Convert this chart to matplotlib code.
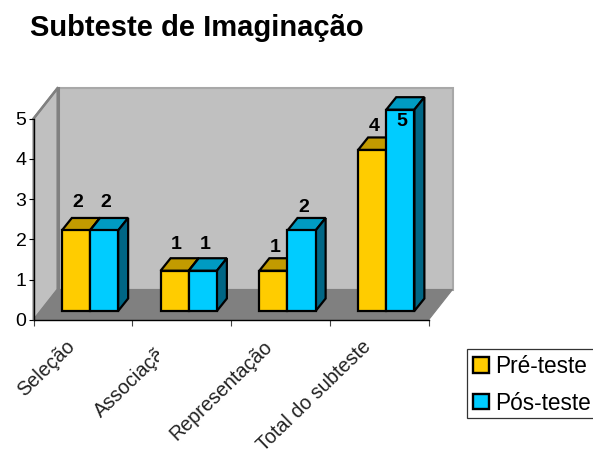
import matplotlib
matplotlib.use("Agg")
import matplotlib.pyplot as plt
from matplotlib.patches import Polygon, Patch, Rectangle
from matplotlib.transforms import Bbox

plt.rcParams['font.family'] = ['Liberation Sans', 'DejaVu Sans']

title = "Subteste de Imaginação"
categories = ["Seleção", "Associação", "Representação", "Total do subteste"]
series_names = ["Pré-teste", "Pós-teste"]
pre_teste = [2, 1, 1, 4]
pos_teste = [2, 1, 2, 5]
y_ticks = [0, 1, 2, 3, 4, 5]

W, H = 593, 457
fig = plt.figure(figsize=(W / 100, H / 100), dpi=100, facecolor='white')
L, R, B, T = 33.5, 428.5, 320.0, 118.7
ax = fig.add_axes([L / W, 1 - B / H, (R - L) / W, (B - T) / H])
ax.set_xlim(0, 4)
ax.set_ylim(0, 5)
ax.patch.set_visible(False)
px_x = (R - L) / 4
px_y = (B - T) / 5

# 3D box
wdx, wdy = 24 / px_x, 30.5 / px_y
ax.add_patch(Polygon([(0, 0), (wdx, wdy), (wdx, 5 + wdy), (0, 5)], closed=True,
                     fc='#c0c0c0', ec='#808080', lw=1.5, clip_on=False, zorder=1))
ax.add_patch(Polygon([(wdx, wdy), (4 + wdx, wdy), (4 + wdx, 5 + wdy), (wdx, 5 + wdy)], closed=True,
                     fc='#c0c0c0', ec='#a8a8a8', lw=1.5, clip_on=False, zorder=1))
ax.plot([wdx, wdx], [wdy, 5 + wdy], color='#808080', lw=2.2, clip_on=False, zorder=1.5)
ax.plot([0, wdx], [5, 5 + wdy], color='#808080', lw=1.8, clip_on=False, zorder=1.5)
ax.add_patch(Polygon([(0, 0), (4, 0), (4 + wdx, wdy), (wdx, wdy)], closed=True,
                     fc='#808080', ec='#808080', lw=0.8, clip_on=False, zorder=1.6))

# Bars
centers = [0.572 + i for i in range(4)]
bw = 0.285
base = 9 / px_y
bdx, bdy = 10 / px_x, 12.5 / px_y
lw = 1.6
styles = [('#ffcc00', '#c29b00', '#8f7200'), ('#00ccff', '#009bc2', '#006685')]
z = 3.0
for c, a, b in zip(centers, pre_teste, pos_teste):
    for k, v in enumerate((a, b)):
        x0 = c - bw + k * bw
        front, top, side = styles[k]
        y1 = base + v
        ax.add_patch(Polygon([(x0, y1), (x0 + bw, y1), (x0 + bw + bdx, y1 + bdy), (x0 + bdx, y1 + bdy)],
                             closed=True, fc=top, ec='black', lw=lw, joinstyle='miter', zorder=z, clip_on=False))
        ax.add_patch(Polygon([(x0 + bw, base), (x0 + bw + bdx, base + bdy), (x0 + bw + bdx, y1 + bdy), (x0 + bw, y1)],
                             closed=True, fc=side, ec='black', lw=lw, joinstyle='miter', zorder=z, clip_on=False))
        ax.bar(x0, v, bw, bottom=base, align='edge', color=front, edgecolor='black', lw=lw, zorder=z + 0.1, clip_on=False)
        z += 0.2

# Value labels (pixel offsets above the bar front top)
label_off = [[28, 28], [26, 26], [23, 23], [23, -12]]
for i, c in enumerate(centers):
    for k, v in enumerate((pre_teste[i], pos_teste[i])):
        x = c - bw + k * bw + bw / 2 + 2 / px_x
        ax.annotate(str(v), (x, base + v), xytext=(0, label_off[i][k] * 0.72), textcoords='offset points',
                    ha='center', va='center', fontsize=14, fontweight='bold', color='black',
                    zorder=20, annotation_clip=False)

# Axes
for s in ('top', 'right'):
    ax.spines[s].set_visible(False)
for s in ('left', 'bottom'):
    ax.spines[s].set_linewidth(1.0)
    ax.spines[s].set_zorder(10)
ax.set_yticks(y_ticks)
ax.tick_params(axis='y', length=3.5, width=0.8, labelsize=14, pad=1.5, colors='black')
ax.set_xticks(range(5))
ax.set_xticklabels([])
ax.tick_params(axis='x', which='major', length=4, width=0.8, color='#444444')
ax.set_xticks([i + 0.5 - 0.18 for i in range(4)], minor=True)
ax.set_xticklabels(categories, minor=True, rotation=44, ha='right', rotation_mode='anchor',
                   fontsize=14.2, color='#222222')
ax.tick_params(axis='x', which='minor', length=0, pad=12)
for t in ax.get_xticklabels(minor=True):
    t.set_clip_on(False)
lab = ax.get_xticklabels(minor=True)[1]
lab.set_clip_box(Bbox([[0, 0], [159, H]]))
lab.set_clip_on(True)

fig.text(30 / W, 1 - 27.5 / H, title, fontsize=21, fontweight='bold', ha='left', va='center', color='black')

# Legend
fig.add_artist(Rectangle((466.5 / W, 1 - 418 / H), 140 / W, 69 / H, transform=fig.transFigure,
                         fc='white', ec='#333333', lw=0.9, zorder=4))
handles = [Patch(fc=styles[0][0], ec='black', lw=1.7), Patch(fc=styles[1][0], ec='black', lw=1.7)]
leg = fig.legend(handles, series_names, loc='upper left', bbox_to_anchor=(473 / W, 1 - 355 / H),
                 bbox_transform=fig.transFigure, borderaxespad=0, borderpad=0, fontsize=16.3, frameon=False,
                 handlelength=0.7, handleheight=0.66, handletextpad=0.27, labelspacing=0.6)
leg.set_zorder(5)

fig.savefig("out.png", dpi=100, facecolor='white')
